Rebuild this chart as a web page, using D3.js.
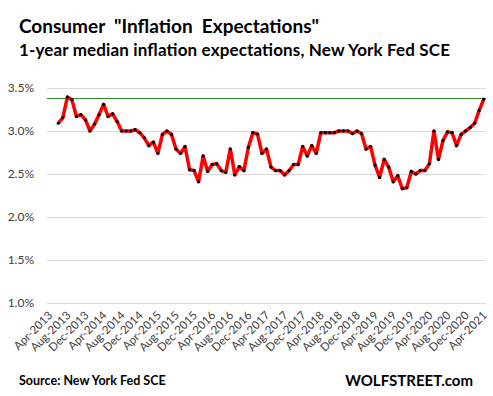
<!DOCTYPE html>
<html>
<head>
<meta charset="utf-8">
<script src="https://cdn.jsdelivr.net/npm/d3@7"></script>
<style>
  body { margin: 0; background: #fff; }
  text { font-family: Lato, "Open Sans", sans-serif; }
</style>
</head>
<body>
<div id="chart"></div>
<script>
// monthly medians, Jun-2013 .. Apr-2021
const firstMonth = '2013-06';
const values = [
  3.09, 3.155, 3.395, 3.364, 3.17, 3.19, 3.13,
  3.00, 3.08, 3.19, 3.31, 3.17, 3.20, 3.11, 3.00, 3.00, 3.00, 3.015, 2.98,
  2.92, 2.83, 2.87, 2.74, 2.96, 3.00, 2.96, 2.79, 2.74, 2.82, 2.55, 2.54,
  2.41, 2.71, 2.53, 2.61, 2.62, 2.54, 2.52, 2.79, 2.49, 2.585, 2.54, 2.81,
  2.98, 2.965, 2.74, 2.79, 2.58, 2.54, 2.54, 2.49, 2.54, 2.61, 2.61, 2.82,
  2.71, 2.83, 2.74, 2.98, 2.98, 2.98, 2.98, 3.00, 3.00, 3.00, 2.97, 3.00,
  2.97, 2.79, 2.82, 2.60, 2.46, 2.67, 2.58, 2.41, 2.48, 2.33, 2.34, 2.53,
  2.50, 2.54, 2.54, 2.62, 3.00, 2.67, 2.89, 2.99, 2.98, 2.83, 2.96, 3.00,
  3.04, 3.09, 3.24, 3.37,
];
const latest = 3.37; // horizontal marker line
const tickLabels = [
  'Apr-2013', 'Aug-2013', 'Dec-2013', 'Apr-2014', 'Aug-2014', 'Dec-2014',
  'Apr-2015', 'Aug-2015', 'Dec-2015', 'Apr-2016', 'Aug-2016', 'Dec-2016',
  'Apr-2017', 'Aug-2017', 'Dec-2017', 'Apr-2018', 'Aug-2018', 'Dec-2018',
  'Apr-2019', 'Aug-2019', 'Dec-2019', 'Apr-2020', 'Aug-2020', 'Dec-2020',
  'Apr-2021',
];
const yTicks = [1.0, 1.5, 2.0, 2.5, 3.0, 3.5];

const size = { width: 493, height: 396 };
const margin = { left: 47, right: 7, top: 88, bottom: 93 };

const fmt = d3.timeFormat('%b-%Y');
const parse = d3.timeParse('%b-%Y');
const months = d3.timeMonth
  .range(parse(tickLabels[0]), d3.timeMonth.offset(parse(tickLabels[tickLabels.length - 1]), 1))
  .map(fmt);
const start = fmt(d3.timeParse('%Y-%m')(firstMonth));
const startIdx = months.indexOf(start);
const data = values.map((v, i) => ({ month: months[startIdx + i], value: v }));

const svg = d3.select('#chart')
  .append('svg')
  .attr('width', size.width)
  .attr('height', size.height);

const x = d3.scaleBand()
  .domain(months)
  .range([margin.left, size.width - margin.right]);

const y = d3.scaleLinear()
  .domain([1.0, 3.5])
  .range([size.height - margin.bottom, margin.top]);

const cx = (m) => x(m) + x.bandwidth() / 2;
const crisp = (v) => Math.round(v) + 0.5;

// titles
svg.append('text')
  .attr('x', 19).attr('y', 33)
  .attr('font-size', '19px').attr('font-weight', 'bold')
  .attr('fill', '#000')
  .attr('xml:space', 'preserve')
  .text('Consumer  "Inflation  Expectations"');

svg.append('text')
  .attr('x', 19).attr('y', 56)
  .attr('font-size', '17px').attr('font-weight', 'bold')
  .attr('fill', '#000')
  .attr('textLength', 431)
  .text('1-year median inflation expectations, New York Fed SCE');

// gridlines + y labels
svg.append('g')
  .selectAll('line')
  .data(yTicks)
  .join('line')
  .attr('x1', margin.left)
  .attr('x2', size.width - margin.right)
  .attr('y1', (d) => crisp(y(d)))
  .attr('y2', (d) => crisp(y(d)))
  .attr('stroke', '#d9d9d9');

svg.append('g')
  .selectAll('text')
  .data(yTicks)
  .join('text')
  .attr('x', 34)
  .attr('y', (d) => y(d))
  .attr('dy', '0.35em')
  .attr('text-anchor', 'end')
  .attr('font-size', '12px')
  .attr('fill', '#404040')
  .text((d) => d.toFixed(1) + '%');

// x labels, rotated
svg.append('g')
  .selectAll('text')
  .data(tickLabels)
  .join('text')
  .attr('transform', (d) => `translate(${cx(d) + 4}, ${size.height - margin.bottom + 13}) rotate(-45)`)
  .attr('text-anchor', 'end')
  .attr('font-size', '11.5px')
  .attr('fill', '#404040')
  .text((d) => d);

// latest-value marker
svg.append('line')
  .attr('x1', margin.left)
  .attr('x2', size.width - margin.right)
  .attr('y1', crisp(y(latest)) - 1)
  .attr('y2', crisp(y(latest)) - 1)
  .attr('stroke', '#2f8f2f')
  .attr('stroke-width', 1);

// series
const line = d3.line()
  .x((d) => cx(d.month))
  .y((d) => y(d.value));

svg.append('path')
  .datum(data)
  .attr('d', line)
  .attr('fill', 'none')
  .attr('stroke', '#ff0000')
  .attr('stroke-width', 3.5)
  .attr('stroke-linejoin', 'round');

svg.append('g')
  .selectAll('circle')
  .data(data)
  .join('circle')
  .attr('cx', (d) => cx(d.month))
  .attr('cy', (d) => y(d.value))
  .attr('r', 1.6)
  .attr('fill', '#000');

// footer
svg.append('text')
  .attr('x', 19).attr('y', 385)
  .attr('font-size', '12.5px').attr('font-weight', 'bold')
  .text('Source: New York Fed SCE');

svg.append('text')
  .attr('x', 473).attr('y', 386)
  .attr('text-anchor', 'end')
  .attr('font-size', '15px').attr('font-weight', 'bold')
  .text('WOLFSTREET.com');
</script>
</body>
</html>
